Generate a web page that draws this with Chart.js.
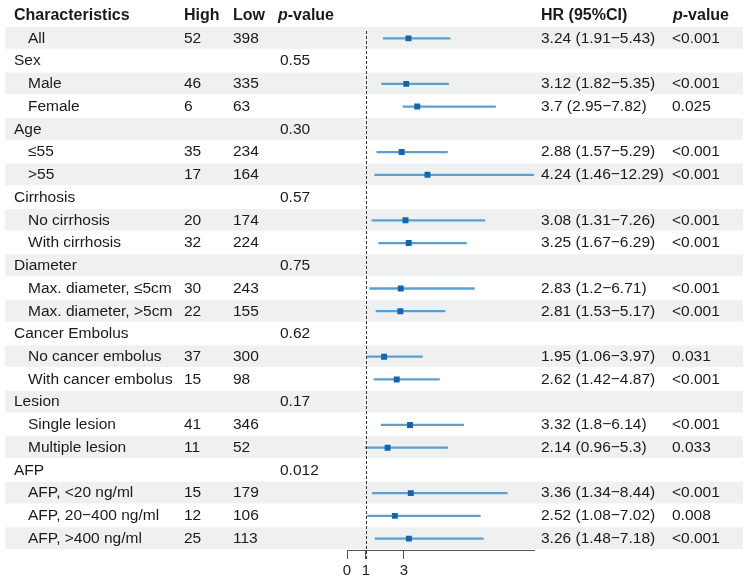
<!DOCTYPE html>
<html>
<head>
<meta charset="utf-8">
<script src="https://cdn.jsdelivr.net/npm/chart.js@4.4.1/dist/chart.umd.min.js"></script>
<style>
  html, body { margin: 0; padding: 0; background: #ffffff; }
  #wrap { width: 748px; height: 583px; position: relative; }
</style>
</head>
<body>
<div id="wrap"><canvas id="forest"></canvas></div>
<script>
// rows of the table, top to bottom
const labels = ['All', 'Sex', 'Male', 'Female', 'Age', '≤55', '>55', 'Cirrhosis', 'No cirrhosis', 'With cirrhosis',
    'Diameter', 'Max. diameter, ≤5cm', 'Max. diameter, >5cm', 'Cancer Embolus', 'No cancer embolus', 'With cancer embolus',
    'Lesion', 'Single lesion', 'Multiple lesion', 'AFP', 'AFP, <20 ng/ml', 'AFP, 20−400 ng/ml', 'AFP, >400 ng/ml'];
const isGroup = [false, true, false, false, true, false, false, true, false, false,
    true, false, false, true, false, false, true, false, false, true, false, false, false];
const high = [52, null, 46, 6, null, 35, 17, null, 20, 32, null, 30, 22, null, 37, 15, null, 41, 11, null, 15, 12, 25];
const low = [398, null, 335, 63, null, 234, 164, null, 174, 224, null, 243, 155, null, 300, 98, null, 346, 52, null, 179, 106, 113];
const groupP = [null, '0.55', null, null, '0.30', null, null, '0.57', null, null, '0.75', null, null, '0.62', null, null,
    '0.17', null, null, '0.012', null, null, null];
const hr = [3.24, null, 3.12, 3.7, null, 2.88, 4.24, null, 3.08, 3.25, null, 2.83, 2.81, null, 1.95, 2.62, null, 3.32, 2.14, null, 3.36, 2.52, 3.26];
const ciLow = [1.91, null, 1.82, 2.95, null, 1.57, 1.46, null, 1.31, 1.67, null, 1.2, 1.53, null, 1.06, 1.42, null, 1.8, 0.96, null, 1.34, 1.08, 1.48];
const ciHigh = [5.43, null, 5.35, 7.82, null, 5.29, 12.29, null, 7.26, 6.29, null, 6.71, 5.17, null, 3.97, 4.87, null, 6.14, 5.3, null, 8.44, 7.02, 7.18];
const hrP = ['<0.001', null, '<0.001', '0.025', null, '<0.001', '<0.001', null, '<0.001', '<0.001', null, '<0.001', '<0.001', null,
    '0.031', '<0.001', null, '<0.001', '0.033', null, '<0.001', '0.008', '<0.001'];
const xTicks = [0, 1, 3];

const FONT = '"Liberation Sans", Arial, Helvetica, sans-serif';
const TEXT = '#1a1a1a';

// background bands + table text
const tablePlugin = {
    id: 'tablePlugin',
    beforeDraw(chart) {
        const ctx = chart.ctx;
        const ys = chart.scales.y;
        const rowH = ys.getPixelForValue(1) - ys.getPixelForValue(0);
        ctx.save();
        ctx.fillStyle = '#eff1f1';
        labels.forEach((l, i) => {
            if (i % 2 === 0) {
                const y = ys.getPixelForValue(i);
                ctx.fillRect(5, y - rowH / 2, 738, rowH - 1);
            }
        });
        ctx.restore();
    },
    afterDraw(chart) {
        const ctx = chart.ctx;
        const ys = chart.scales.y;
        const xs = chart.scales.x;
        const rowH = ys.getPixelForValue(1) - ys.getPixelForValue(0);
        ctx.save();
        ctx.textBaseline = 'middle';
        ctx.textAlign = 'left';
        ctx.fillStyle = TEXT;

        // header
        const hy = ys.getPixelForValue(0) - rowH;
        ctx.font = 'bold 16px ' + FONT;
        ctx.fillText('Characteristics', 14, hy);
        ctx.fillText('High', 184, hy);
        ctx.fillText('Low', 233, hy);
        ctx.fillText('HR (95%CI)', 541, hy);
        ctx.font = 'italic bold 16px ' + FONT;
        ctx.fillText('p', 278, hy);
        ctx.fillText('p', 673, hy);
        const pw = ctx.measureText('p').width;
        ctx.font = 'bold 16px ' + FONT;
        ctx.fillText('-value', 278 + pw, hy);
        ctx.fillText('-value', 673 + pw, hy);

        ctx.font = '15.5px ' + FONT;
        labels.forEach((l, i) => {
            const y = ys.getPixelForValue(i);
            ctx.fillText(l, isGroup[i] ? 14 : 28, y);
            if (high[i] !== null) ctx.fillText(String(high[i]), 184, y);
            if (low[i] !== null) ctx.fillText(String(low[i]), 233, y);
            if (groupP[i] !== null) ctx.fillText(groupP[i], 280, y);
            if (hr[i] !== null) {
                ctx.fillText(hr[i] + ' (' + ciLow[i] + '−' + ciHigh[i] + ')', 541, y);
                ctx.fillText(hrP[i], 672, y);
            }
        });

        // reference line at HR = 1
        const x1 = Math.round(xs.getPixelForValue(1)) + 0.5;
        ctx.strokeStyle = '#333333';
        ctx.lineWidth = 1;
        ctx.setLineDash([3, 2]);
        ctx.beginPath();
        ctx.moveTo(x1, chart.chartArea.top + 4);
        ctx.lineTo(x1, chart.chartArea.bottom + 10);
        ctx.stroke();
        ctx.restore();
    }
};

new Chart(document.getElementById('forest'), {
    type: 'bar',
    data: {
        labels: labels,
        datasets: [{
            label: 'CI',
            data: labels.map((l, i) => ciLow[i] === null ? null : [ciLow[i], ciHigh[i]]),
            backgroundColor: '#5b9fd1',
            borderWidth: 0,
            barThickness: 1.6,
            order: 2
        }, {
            type: 'scatter',
            label: 'HR',
            data: labels.map((l, i) => hr[i] === null ? null : { x: hr[i], y: l }).filter(d => d !== null),
            pointStyle: 'rect',
            radius: 4.2,
            backgroundColor: '#1465b0',
            borderColor: '#1465b0',
            borderWidth: 0,
            order: 1
        }]
    },
    options: {
        indexAxis: 'y',
        responsive: true,
        maintainAspectRatio: false,
        animation: false,
        layout: { padding: { left: 347, right: 214, top: 27, bottom: 0 } },
        plugins: {
            legend: { display: false },
            tooltip: { enabled: false }
        },
        scales: {
            y: {
                type: 'category',
                display: false,
                offset: true
            },
            x: {
                type: 'linear',
                min: 0,
                max: 9.85,
                afterBuildTicks: axis => { axis.ticks = xTicks.map(v => ({ value: v })); },
                grid: { display: true, drawOnChartArea: false, drawTicks: true, tickLength: 9, color: '#555555' },
                border: { display: true, color: '#555555', width: 1 },
                ticks: {
                    color: '#222222',
                    font: { family: FONT, size: 15 },
                    padding: 3,
                    maxRotation: 0,
                    autoSkip: false
                }
            }
        }
    },
    plugins: [tablePlugin]
});
</script>
</body>
</html>
